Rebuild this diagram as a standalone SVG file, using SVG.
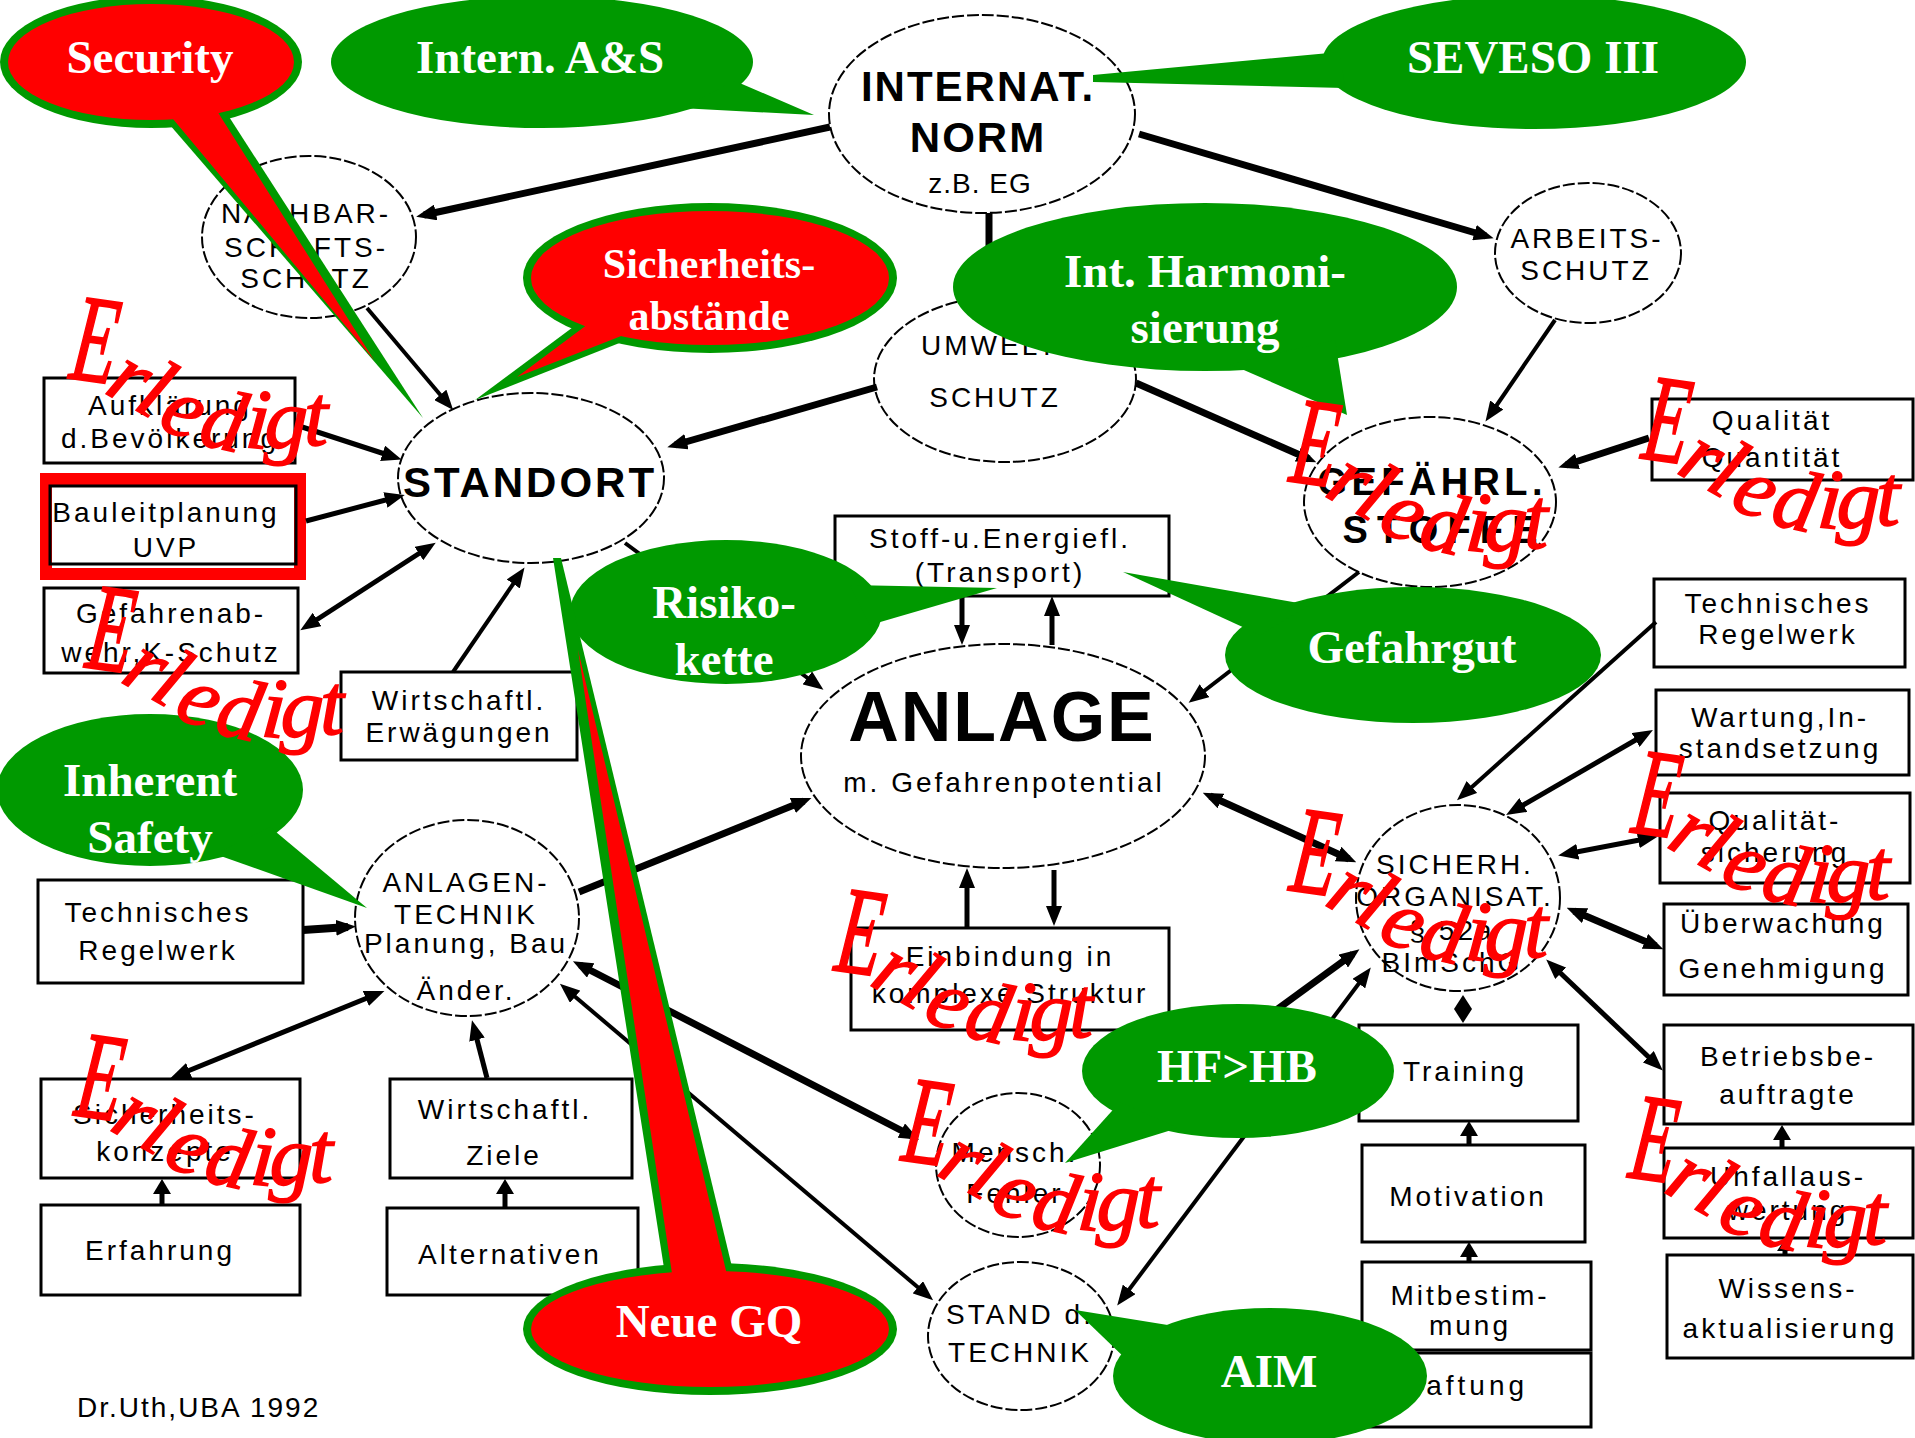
<svg xmlns="http://www.w3.org/2000/svg" width="1915" height="1438" viewBox="0 0 1915 1438">
<defs>
  <marker id="ah" viewBox="0 0 20 16" refX="12" refY="8" markerWidth="20" markerHeight="16" markerUnits="userSpaceOnUse" orient="auto-start-reverse">
    <path d="M0,0 L20,8 L0,16 z" fill="#000"/>
  </marker>
  <!-- red "Erledigt" stamp, origin at the baseline of the E -->
  <g id="erledigt">
    <text class="erl" transform="rotate(8) scale(0.85,1.45)">E</text>
    <text class="erl" x="35 64 88 129 176 196 236" y="14 30 48 66 69 69 67" rotate="30 30 25 12 5 2 0">rledigt</text>
  </g>
</defs>
<style>
  .n ellipse { fill: #fff; stroke: #000; stroke-width: 2; stroke-dasharray: 12 3; }
  .n rect { fill: #fff; stroke: #000; stroke-width: 3; }
  .t { font-family: "Liberation Sans", Arial, sans-serif; font-size: 28px; letter-spacing: 3px; text-anchor: middle; fill: #000; }
  .b { font-weight: bold; }
  .c line, .c path { stroke: #000; fill: none; }
  .c polygon { fill: #000; }
  .w4 { stroke-width: 4; }
  .w5 { stroke-width: 5; }
  .w6 { stroke-width: 7; }
  .w8 { stroke-width: 8; }
  .e { marker-end: url(#ah); }
  .se { marker-start: url(#ah); marker-end: url(#ah); }
  .g { fill: #009900; }
  .r { fill: #ff0000; }
  .bt { font-family: "Liberation Serif", "Times New Roman", serif; font-weight: bold; font-size: 47px; fill: #fff; text-anchor: middle; }
  .erl { font-family: "Liberation Serif", "Times New Roman", serif; font-style: italic; font-size: 86px; fill: #ff0000; stroke: #ff0000; stroke-width: 1.5px; }
</style>
<rect width="1915" height="1438" fill="#fff"/>

<!-- ===== nodes ===== -->
<g class="n">
  <g id="internat-norm">
    <ellipse cx="982" cy="114" rx="153" ry="99"/>
    <text class="t b" x="978" y="101" style="font-size:42px;letter-spacing:2px">INTERNAT.</text>
    <text class="t b" x="978" y="152" style="font-size:42px;letter-spacing:2px">NORM</text>
    <text class="t" x="980" y="193" style="letter-spacing:1px">z.B. EG</text>
  </g>
  <g id="nachbarschaftsschutz">
    <ellipse cx="309" cy="237" rx="107" ry="81"/>
    <text class="t" x="306" y="223">NACHBAR-</text>
    <text class="t" x="306" y="257">SCHAFTS-</text>
    <text class="t" x="306" y="288">SCHUTZ</text>
  </g>
  <g id="standort">
    <ellipse cx="531" cy="478" rx="133" ry="85"/>
    <text class="t b" x="530" y="497" style="font-size:42px">STANDORT</text>
  </g>
  <g id="umweltschutz">
    <ellipse cx="1005" cy="379" rx="131" ry="83"/>
    <text class="t" x="995" y="355">UMWELT-</text>
    <text class="t" x="995" y="407">SCHUTZ</text>
  </g>
  <g id="arbeitsschutz">
    <ellipse cx="1588" cy="253" rx="93" ry="70"/>
    <text class="t" x="1587" y="248">ARBEITS-</text>
    <text class="t" x="1586" y="280">SCHUTZ</text>
  </g>
  <g id="gefaehrliche-stoffe">
    <ellipse cx="1430" cy="502" rx="126" ry="85"/>
    <text class="t b" x="1430" y="495" style="font-size:38px;letter-spacing:0" textLength="225" lengthAdjust="spacing">GEFÄHRL.</text>
    <text class="t b" x="1440" y="543" style="font-size:38px;letter-spacing:0" textLength="195" lengthAdjust="spacing">STOFFE</text>
  </g>
  <g id="anlage">
    <ellipse cx="1003" cy="756" rx="202" ry="112"/>
    <text class="t b" x="1002" y="741" style="font-size:70px;letter-spacing:2px">ANLAGE</text>
    <text class="t" x="1004" y="792">m. Gefahrenpotential</text>
  </g>
  <g id="anlagentechnik">
    <ellipse cx="467" cy="918" rx="112" ry="98"/>
    <text class="t" x="466" y="892">ANLAGEN-</text>
    <text class="t" x="466" y="924">TECHNIK</text>
    <text class="t" x="466" y="953">Planung, Bau</text>
    <text class="t" x="466" y="1000">Änder.</text>
  </g>
  <g id="sicherheitsorganisation">
    <ellipse cx="1458" cy="898" rx="102" ry="93"/>
    <text class="t" x="1455" y="874">SICHERH.</text>
    <text class="t" x="1455" y="906">ORGANISAT.</text>
    <text class="t" x="1452" y="940">§ 52a</text>
    <text class="t" x="1452" y="972">BImSchG</text>
  </g>
  <g id="menschl-fehler">
    <ellipse cx="1018" cy="1165" rx="82" ry="72"/>
    <text class="t" x="1015" y="1162">Mensch.</text>
    <text class="t" x="1015" y="1203">Fehler</text>
  </g>
  <g id="stand-der-technik">
    <ellipse cx="1021" cy="1336" rx="93" ry="74"/>
    <text class="t" x="1020" y="1324">STAND d.</text>
    <text class="t" x="1020" y="1362">TECHNIK</text>
  </g>

  <g id="aufklaerung">
    <rect x="44" y="378" width="251" height="85"/>
    <text class="t" x="170" y="415">Aufklärung</text>
    <text class="t" x="170" y="448">d.Bevölkerung</text>
  </g>
  <g id="bauleitplanung">
    <rect x="46" y="479" width="254" height="95" style="fill:none;stroke:#ff0000;stroke-width:12"/>
    <rect x="50" y="486" width="246" height="78" style="fill:none"/>
    <text class="t" x="166" y="522">Bauleitplanung</text>
    <text class="t" x="166" y="557">UVP</text>
  </g>
  <g id="gefahrenabwehr">
    <rect x="44" y="588" width="254" height="85"/>
    <text class="t" x="171" y="623">Gefahrenab-</text>
    <text class="t" x="171" y="662">wehr,K-Schutz</text>
  </g>
  <g id="erwaegungen">
    <rect x="341" y="672" width="236" height="88"/>
    <text class="t" x="459" y="710">Wirtschaftl.</text>
    <text class="t" x="459" y="742">Erwägungen</text>
  </g>
  <g id="stofffluss">
    <rect x="835" y="516" width="334" height="80"/>
    <text class="t" x="1000" y="548">Stoff-u.Energiefl.</text>
    <text class="t" x="1000" y="582">(Transport)</text>
  </g>
  <g id="einbindung">
    <rect x="851" y="928" width="318" height="102"/>
    <text class="t" x="1010" y="966">Einbindung  in</text>
    <text class="t" x="1010" y="1003">komplexe Struktur</text>
  </g>
  <g id="regelwerk-links">
    <rect x="38" y="880" width="265" height="103"/>
    <text class="t" x="158" y="922">Technisches</text>
    <text class="t" x="158" y="960">Regelwerk</text>
  </g>
  <g id="sicherheitskonzepte">
    <rect x="41" y="1079" width="259" height="99"/>
    <text class="t" x="165" y="1124">Sicherheits-</text>
    <text class="t" x="165" y="1161">konzepte</text>
  </g>
  <g id="erfahrung">
    <rect x="41" y="1205" width="259" height="90"/>
    <text class="t" x="160" y="1260">Erfahrung</text>
  </g>
  <g id="ziele">
    <rect x="390" y="1079" width="242" height="99"/>
    <text class="t" x="505" y="1119">Wirtschaftl.</text>
    <text class="t" x="504" y="1165">Ziele</text>
  </g>
  <g id="alternativen">
    <rect x="387" y="1208" width="251" height="87"/>
    <text class="t" x="510" y="1264">Alternativen</text>
  </g>
  <g id="qualitaet-quantitaet">
    <rect x="1652" y="399" width="261" height="81"/>
    <text class="t" x="1772" y="430">Qualität</text>
    <text class="t" x="1772" y="467">Quantität</text>
  </g>
  <g id="regelwerk-rechts">
    <rect x="1654" y="579" width="251" height="88"/>
    <text class="t" x="1778" y="613">Technisches</text>
    <text class="t" x="1778" y="644">Regelwerk</text>
  </g>
  <g id="wartung">
    <rect x="1656" y="690" width="253" height="85"/>
    <text class="t" x="1780" y="727">Wartung,In-</text>
    <text class="t" x="1780" y="758">standsetzung</text>
  </g>
  <g id="qualitaetssicherung">
    <rect x="1660" y="793" width="250" height="90"/>
    <text class="t" x="1775" y="830">Qualität-</text>
    <text class="t" x="1775" y="862">sicherung</text>
  </g>
  <g id="ueberwachung">
    <rect x="1664" y="904" width="244" height="91"/>
    <text class="t" x="1783" y="933">Überwachung</text>
    <text class="t" x="1783" y="978">Genehmigung</text>
  </g>
  <g id="betriebsbeauftragte">
    <rect x="1664" y="1025" width="249" height="99"/>
    <text class="t" x="1788" y="1066">Betriebsbe-</text>
    <text class="t" x="1788" y="1104">auftragte</text>
  </g>
  <g id="unfallauswertung">
    <rect x="1664" y="1148" width="249" height="90"/>
    <text class="t" x="1788" y="1186">Unfallaus-</text>
    <text class="t" x="1788" y="1220">wertung</text>
  </g>
  <g id="wissensaktualisierung">
    <rect x="1667" y="1255" width="246" height="103"/>
    <text class="t" x="1788" y="1298">Wissens-</text>
    <text class="t" x="1790" y="1338">aktualisierung</text>
  </g>
  <g id="training">
    <rect x="1359" y="1025" width="219" height="96"/>
    <text class="t" x="1465" y="1081">Training</text>
  </g>
  <g id="motivation">
    <rect x="1362" y="1145" width="223" height="97"/>
    <text class="t" x="1468" y="1206">Motivation</text>
  </g>
  <g id="mitbestimmung">
    <rect x="1362" y="1262" width="229" height="88"/>
    <text class="t" x="1470" y="1305">Mitbestim-</text>
    <text class="t" x="1470" y="1335">mung</text>
  </g>
  <g id="haftung">
    <rect x="1362" y="1353" width="229" height="74"/>
    <text class="t" x="1465" y="1395" style="letter-spacing:4px">Haftung</text>
  </g>
  <g id="quelle">
    <text class="t" x="77" y="1417" style="text-anchor:start;letter-spacing:2px">Dr.Uth,UBA 1992</text>
  </g>
</g>

<!-- ===== connectors ===== -->
<g class="c" id="connectors">
  <line class="w6 e" x1="830" y1="127" x2="424" y2="215"/>
  <line class="w6 e" x1="1139" y1="134" x2="1486" y2="236"/>
  <line class="w6" x1="989" y1="213" x2="989" y2="300"/>
  <line class="w4 e" x1="367" y1="308" x2="448" y2="404"/>
  <line class="w6 e" x1="877" y1="387" x2="675" y2="445"/>
  <line class="w6 e" x1="1136" y1="383" x2="1309" y2="459"/>
  <line class="w4 e" x1="1555" y1="320" x2="1490" y2="415"/>
  <line class="w6 e" x1="1649" y1="438" x2="1566" y2="465"/>
  <line class="w5 e" x1="296" y1="425" x2="394" y2="457"/>
  <line class="w5 e" x1="306" y1="521" x2="397" y2="497"/>
  <line class="w5 se" x1="307" y1="626" x2="429" y2="547"/>
  <line class="w4 e" x1="453" y1="672" x2="520" y2="574"/>
  <line class="w4 e" x1="625" y1="543" x2="817" y2="685"/>
  <line class="w4 e" x1="1359" y1="572" x2="1195" y2="698"/>
  <line class="w5 e" x1="962" y1="596" x2="962" y2="637"/>
  <line class="w5 e" x1="1052" y1="645" x2="1052" y2="604"/>
  <line class="w5 e" x1="967" y1="928" x2="967" y2="876"/>
  <line class="w5 e" x1="1054" y1="870" x2="1054" y2="918"/>
  <line class="w6 e" x1="579" y1="892" x2="804" y2="801"/>
  <line class="w8 e" x1="303" y1="930" x2="348" y2="927"/>
  <line class="w5 se" x1="178" y1="1075" x2="377" y2="994"/>
  <line class="w5 e" x1="487" y1="1078" x2="474" y2="1028"/>
  <line class="w6 se" x1="580" y1="965" x2="912" y2="1136"/>
  <line class="w4 se" x1="566" y1="989" x2="927" y2="1295"/>
  <line class="w6 se" x1="1210" y1="796" x2="1349" y2="859"/>
  <line class="w4 e" x1="1656" y1="622" x2="1463" y2="795"/>
  <line class="w5 se" x1="1646" y1="734" x2="1513" y2="811"/>
  <line class="w5 se" x1="1650" y1="838" x2="1566" y2="854"/>
  <line class="w6 se" x1="1656" y1="946" x2="1574" y2="911"/>
  <line class="w5 se" x1="1657" y1="1065" x2="1552" y2="965"/>
  <line class="w6 e" x1="1098" y1="1140" x2="1353" y2="954"/>
  <line class="w4 se" x1="1122" y1="1299" x2="1366" y2="974"/>
  <!-- short vertical links between stacked boxes -->
  <line class="w5" x1="162" y1="1192" x2="162" y2="1205"/>
  <polygon points="162,1179 171,1194 153,1194"/>
  <line class="w5" x1="505" y1="1192" x2="505" y2="1208"/>
  <polygon points="505,1179 514,1194 496,1194"/>
  <line class="w5" x1="1469" y1="1134" x2="1469" y2="1145"/>
  <polygon points="1469,1121 1478,1136 1460,1136"/>
  <line class="w5" x1="1469" y1="1255" x2="1469" y2="1262"/>
  <polygon points="1469,1242 1478,1257 1460,1257"/>
  <line class="w5" x1="1782" y1="1138" x2="1782" y2="1148"/>
  <polygon points="1782,1125 1791,1140 1773,1140"/>
  <line class="w5" x1="1785" y1="1249" x2="1785" y2="1255"/>
  <polygon points="1785,1239 1793,1251 1777,1251"/>
  <polygon points="1463,995 1472,1009 1463,1023 1454,1009"/>
</g>

<!-- ===== callouts ===== -->
<g id="callout-security">
  <ellipse class="g" cx="151" cy="62" rx="151" ry="66"/>
  <polygon class="g" points="144,95 423,418 215,95"/>
  <ellipse class="r" cx="151" cy="62" rx="143" ry="58"/>
  <polygon class="r" points="153,95 374,360 207,95"/>
  <text class="bt" x="150" y="73">Security</text>
</g>
<g id="callout-intern-as">
  <ellipse class="g" cx="542" cy="62" rx="211" ry="66"/>
  <polygon class="g" points="735,81 814,115 680,108"/>
  <text class="bt" x="540" y="73">Intern. A&amp;S</text>
</g>
<g id="callout-seveso">
  <ellipse class="g" cx="1534" cy="62" rx="212" ry="67"/>
  <polygon class="g" points="1340,52 1093,75 1093,82 1345,88"/>
  <text class="bt" x="1533" y="73">SEVESO III</text>
</g>
<g id="callout-sicherheitsabstaende">
  <ellipse class="g" cx="710" cy="278" rx="187" ry="75"/>
  <polygon class="g" points="600,307 475,400 660,327"/>
  <ellipse class="r" cx="710" cy="278" rx="179" ry="67"/>
  <polygon class="r" points="627,295 517,377 667,318"/>
  <text class="bt" x="709" y="278" style="font-size:42px">Sicherheits-</text>
  <text class="bt" x="709" y="330" style="font-size:42px">abstände</text>
</g>
<g id="callout-harmonisierung">
  <ellipse class="g" cx="1205" cy="287" rx="252" ry="84"/>
  <polygon class="g" points="1230,364 1347,415 1335,340"/>
  <text class="bt" x="1205" y="287">Int. Harmoni-</text>
  <text class="bt" x="1205" y="343">sierung</text>
</g>
<g id="callout-risikokette">
  <ellipse class="g" cx="726" cy="612" rx="156" ry="72"/>
  <polygon class="g" points="850,585 997,588 870,625"/>
  <text class="bt" x="724" y="618">Risiko-</text>
  <text class="bt" x="724" y="675">kette</text>
</g>
<g id="callout-gefahrgut">
  <ellipse class="g" cx="1413" cy="655" rx="188" ry="68"/>
  <polygon class="g" points="1310,605 1123,572 1260,635"/>
  <text class="bt" x="1412" y="663">Gefahrgut</text>
</g>
<g id="callout-inherent-safety">
  <ellipse class="g" cx="150" cy="790" rx="153" ry="76"/>
  <polygon class="g" points="270,827 367,908 215,854"/>
  <text class="bt" x="150" y="796">Inherent</text>
  <text class="bt" x="150" y="853">Safety</text>
</g>
<g id="callout-neue-gq">
  <ellipse class="g" cx="710" cy="1329" rx="187" ry="66"/>
  <polygon class="g" points="553,558 561,558 740,1300 669,1300"/>
  <ellipse class="r" cx="710" cy="1329" rx="179" ry="58"/>
  <polygon class="r" points="578,650 733,1300 676,1300"/>
  <text class="bt" x="709" y="1337">Neue GQ</text>
</g>
<g id="callout-hf-hb">
  <ellipse class="g" cx="1238" cy="1071" rx="156" ry="67"/>
  <polygon class="g" points="1120,1102 1065,1163 1178,1128"/>
  <text class="bt" x="1237" y="1082">HF&gt;HB</text>
</g>
<g id="callout-aim">
  <ellipse class="g" cx="1270" cy="1376" rx="157" ry="68"/>
  <polygon class="g" points="1180,1327 1075,1310 1128,1361"/>
  <text class="bt" x="1269" y="1387">AIM</text>
</g>

<!-- ===== status stamps ===== -->
<g id="stamps">
  <use href="#erledigt" x="68" y="378"/>
  <use href="#erledigt" x="84" y="667"/>
  <use href="#erledigt" x="1288" y="481"/>
  <use href="#erledigt" x="1640" y="458"/>
  <use href="#erledigt" x="1630" y="832"/>
  <use href="#erledigt" x="1288" y="890"/>
  <use href="#erledigt" x="833" y="970"/>
  <use href="#erledigt" x="73" y="1115"/>
  <use href="#erledigt" x="900" y="1160"/>
  <use href="#erledigt" x="1627" y="1177"/>
</g>
</svg>
